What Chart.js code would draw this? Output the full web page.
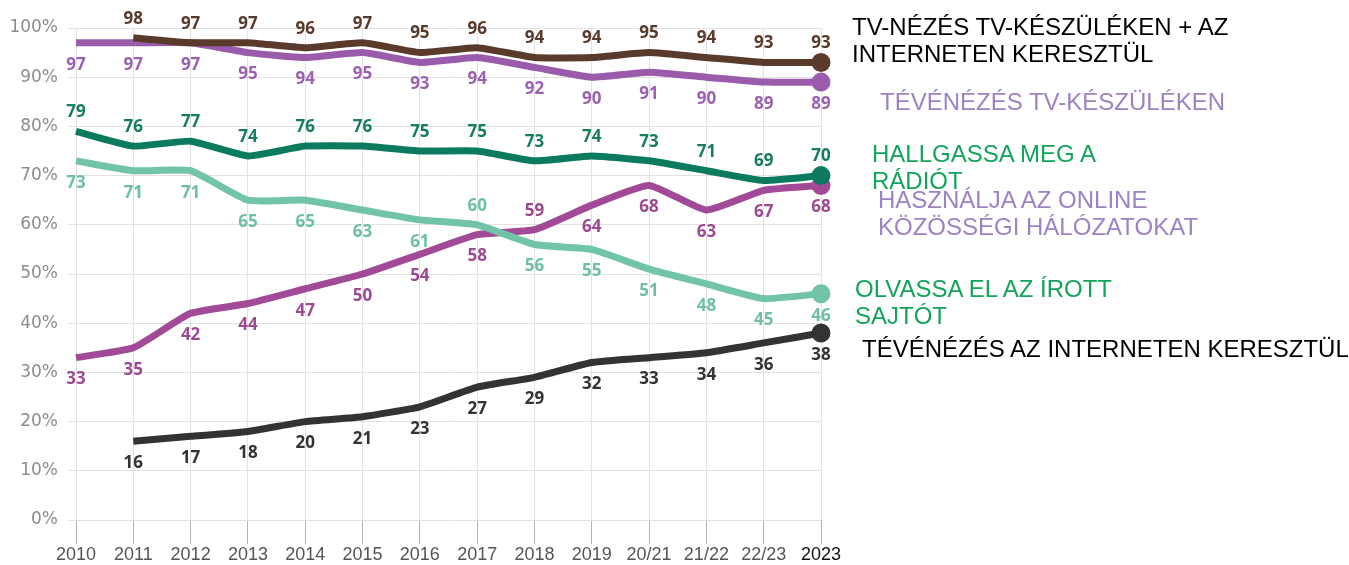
<!DOCTYPE html>
<html>
<head>
<meta charset="utf-8">
<script src="https://cdn.jsdelivr.net/npm/chart.js@4"></script>
<style>
  body { margin: 0; background: #fff; }
  #wrap { position: relative; width: 1349px; height: 565px; }
  .lbl { position: absolute; font-family: "Liberation Sans", Arial, sans-serif; font-size: 24px; line-height: 27px; white-space: nowrap; }
</style>
</head>
<body>
<div id="wrap">
  <canvas id="chart" width="1349" height="565"></canvas>
  <div class="lbl" style="left:852px; top:13px; color:#000;">TV-NÉZÉS TV-KÉSZÜLÉKEN + AZ<br>INTERNETEN KERESZTÜL</div>
  <div class="lbl" style="left:880px; top:88px; color:#9d82c4;">TÉVÉNÉZÉS TV-KÉSZÜLÉKEN</div>
  <div class="lbl" style="left:872px; top:140px; color:#12a45a;">HALLGASSA MEG A<br>RÁDIÓT</div>
  <div class="lbl" style="left:878px; top:186px; color:#9d82c4;">HASZNÁLJA AZ ONLINE<br>KÖZÖSSÉGI HÁLÓZATOKAT</div>
  <div class="lbl" style="left:855px; top:275px; color:#12a45a;">OLVASSA EL AZ ÍROTT<br>SAJTÓT</div>
  <div class="lbl" style="left:862px; top:335px; color:#000;">TÉVÉNÉZÉS AZ INTERNETEN KERESZTÜL</div>
</div>
<script>
// x-axis categories and y ticks
const years = ["2010", "2011", "2012", "2013", "2014", "2015", "2016", "2017", "2018", "2019", "20/21", "21/22", "22/23", "2023"];
const yTicks = [0, 10, 20, 30, 40, 50, 60, 70, 80, 90, 100];

// series values (percent)
const tvPlusInternet = [null, 98, 97, 97, 96, 97, 95, 96, 94, 94, 95, 94, 93, 93];
const tvOnSet = [97, 97, 97, 95, 94, 95, 93, 94, 92, 90, 91, 90, 89, 89];
const radio = [79, 76, 77, 74, 76, 76, 75, 75, 73, 74, 73, 71, 69, 70];
const press = [73, 71, 71, 65, 65, 63, 61, 60, 56, 55, 51, 48, 45, 46];
const social = [33, 35, 42, 44, 47, 50, 54, 58, 59, 64, 68, 63, 67, 68];
const tvInternet = [null, 16, 17, 18, 20, 21, 23, 27, 29, 32, 33, 34, 36, 38];

const graphRef = document.getElementById("chart");

// makes a line dataset; side = where the value label goes (-1 above, 1 below)
function series(label, data, color, textColor, side) {
    return {
        label: label,
        data: data,
        borderColor: color,
        backgroundColor: color,
        borderWidth: 7,
        tension: 0.15,
        spanGaps: false,
        pointRadius: ctx => ctx.dataIndex === data.length - 1 ? 6 : 0,
        pointHoverRadius: 0,
        textColor: textColor,
        side: side,
    };
}

// draws the value of every point above or below it
const valueLabels = {
    id: "valueLabels",
    afterDatasetsDraw(chart) {
        const c = chart.ctx;
        c.save();
        c.font = "bold 17px 'Open Sans', sans-serif";
        c.textAlign = "center";
        c.textBaseline = "middle";
        chart.data.datasets.forEach((ds, i) => {
            const meta = chart.getDatasetMeta(i);
            meta.data.forEach((pt, j) => {
                if (ds.data[j] === null) return;
                const s = Array.isArray(ds.side) ? ds.side[j] : ds.side;
                const dy = s < 0 ? -19 : 22;
                c.fillStyle = ds.textColor;
                c.fillText(ds.data[j], pt.x, pt.y + dy);
            });
        });
        c.restore();
    }
};

// a couple of labels sit on the other side of the line
const pressSide = press.map((v, j) => j === 7 ? -1 : 1);
const socialSide = social.map((v, j) => j === 8 ? -1 : 1);

const chart = new Chart(graphRef, {
    type: "line",
    data: {
        labels: years,
        datasets: [
            series("TV-nézés TV-készüléken + az interneten keresztül", tvPlusInternet, "#5a3a2b", "#5a3a2b", -1),
            series("Tévénézés TV-készüléken", tvOnSet, "#9a5bab", "#9a62b0", 1),
            series("Hallgassa meg a rádiót", radio, "#0b7a5e", "#167c62", -1),
            series("Olvassa el az írott sajtót", press, "#72c4a8", "#6fc0a2", pressSide),
            series("Használja az online közösségi hálózatokat", social, "#a24a97", "#9c4a92", socialSide),
            series("Tévénézés az interneten keresztül", tvInternet, "#333333", "#333333", 1),
        ],
    },
    plugins: [valueLabels],
    options: {
        responsive: false,
        animation: false,
        layout: { padding: { left: 4, right: 528, top: 28, bottom: 0 } },
        plugins: {
            legend: { display: false },
            tooltip: { enabled: false },
        },
        scales: {
            x: {
                offset: false,
                afterFit: axis => { axis.height = 45; },
                grid: { color: "#e2e2e2", tickColor: "#b5b5b5", tickLength: 24, lineWidth: 1 },
                border: { display: false },
                ticks: {
                    font: { family: "'Liberation Sans', sans-serif", size: 18 },
                    color: ctx => ctx.index === years.length - 1 ? "#111" : "#555",
                    maxRotation: 0,
                    autoSkip: false,
                    padding: 0,
                },
            },
            y: {
                min: 0,
                max: 100,
                afterBuildTicks: axis => { axis.ticks = yTicks.map(v => ({ value: v })); },
                afterFit: axis => { axis.width = 72; },
                grid: { color: "#e2e2e2", drawTicks: true, tickLength: 8, tickColor: "#e2e2e2" },
                border: { display: false },
                ticks: {
                    font: { family: "'DejaVu Sans', sans-serif", size: 17 },
                    color: "#8c8c8c",
                    padding: 10,
                    callback: v => v + "%",
                },
            },
        },
    },
});
</script>
</body>
</html>
